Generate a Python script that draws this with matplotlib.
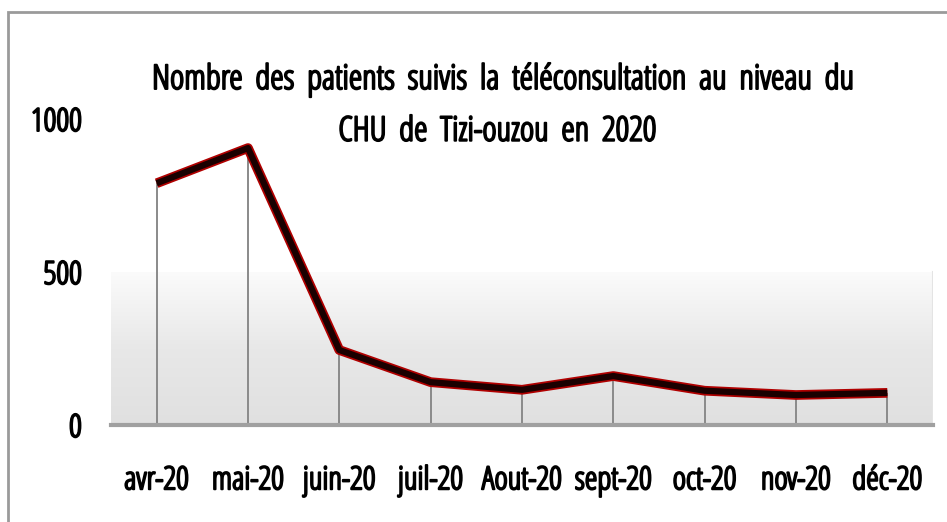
import numpy as np
import matplotlib
matplotlib.use("Agg")
import matplotlib.pyplot as plt
import matplotlib.patheffects as pe
from matplotlib.patches import Rectangle

months = ["avr-20", "mai-20", "juin-20", "juil-20", "Aout-20", "sept-20", "oct-20", "nov-20", "déc-20"]
patients = [790, 905, 245, 140, 115, 160, 112, 98, 105]
y_ticks = [0, 500, 1000]

title_1 = "Nombre  des  patients  suivis  la  téléconsultation  au  niveau  du"
title_2 = "CHU  de  Tizi-ouzou  en  2020"

plt.rcParams["font.family"] = ["Open Sans", "DejaVu Sans"]
plt.rcParams["font.stretch"] = "condensed"
thick = [pe.withStroke(linewidth=1.4, foreground="black")]

fig = plt.figure(figsize=(9.47, 5.22), dpi=100)
fig.patch.set_facecolor("white")

# outer frame like the Excel chart border
frame = Rectangle((8 / 947, -0.1), 1.2, 1 - 12 / 522 + 0.1, transform=fig.transFigure,
                  fill=False, edgecolor="#9a9a9a", linewidth=2.0)
fig.patches.append(frame)

ax = fig.add_axes([111 / 947, 1 - 425 / 522, 822 / 947, 306 / 522])
x = np.arange(len(months))

# gradient band behind the lower half
grad = np.linspace(0.0, 1.0, 256).reshape(-1, 1)
ax.imshow(grad, extent=(-0.5, len(months) - 0.5, 0, 500), aspect="auto",
          cmap=matplotlib.colors.LinearSegmentedColormap.from_list("g", ["#e0e0e0", "#e8e8e8", "#fbfbfb"]),
          origin="lower", zorder=0)
ax.plot([len(months) - 0.5] * 2, [0, 500], color="#e4e4e4", lw=1.5, zorder=1)

# drop lines
ax.vlines(x, 0, patients, color="#8a8a8a", lw=1.4, zorder=2)

# thick line: red halo + dark core
ax.plot(x, patients, color="#b00000", lw=7, solid_capstyle="butt", zorder=3)
ax.plot(x, patients, color="#1a0000", lw=4.5, solid_capstyle="butt", zorder=4)

ax.set_xlim(-0.5, len(months) - 0.5)
ax.set_ylim(0, 1000)
ax.set_xticks(x)
ax.set_xticklabels(months, fontsize=23, path_effects=thick)
ax.set_yticks(y_ticks)
ax.set_yticklabels([str(v) for v in y_ticks], fontsize=23, path_effects=thick)
ax.tick_params(axis="x", length=0, pad=29)
ax.tick_params(axis="y", length=0, pad=21)
for s in ["top", "right", "left"]:
    ax.spines[s].set_visible(False)
ax.spines["bottom"].set_color("#a0a0a0")
ax.spines["bottom"].set_linewidth(3)
ax.set_facecolor("white")

fig.text(502 / 947, 1 - 80 / 522, title_1, ha="center", va="center", fontsize=24.5, path_effects=thick)
fig.text(497 / 947, 1 - 132 / 522, title_2, ha="center", va="center", fontsize=24.5, path_effects=thick)

fig.savefig("out.png", dpi=100)
